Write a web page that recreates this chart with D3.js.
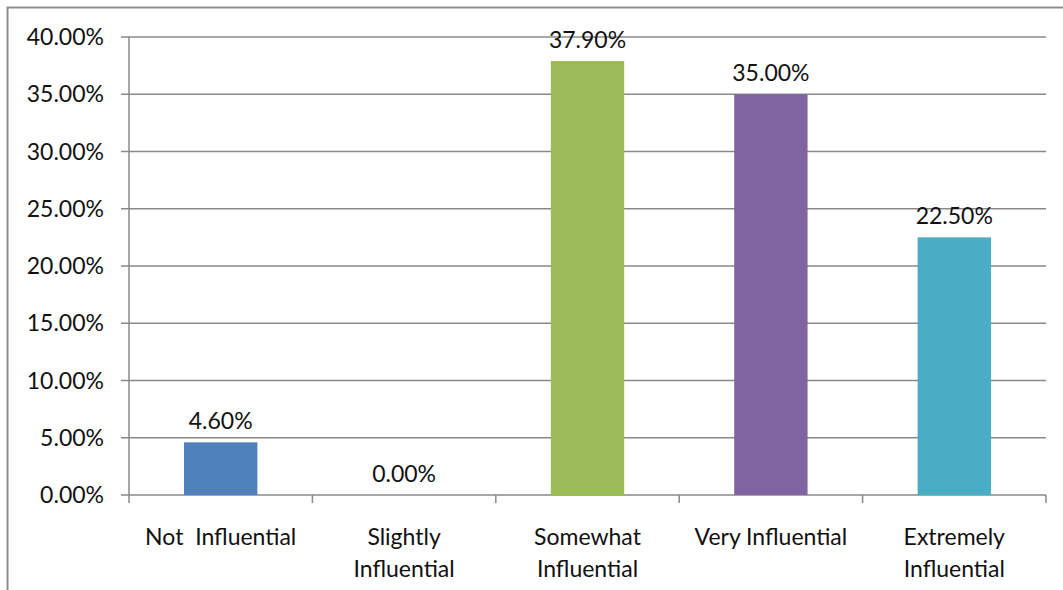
<!DOCTYPE html>
<html>
<head>
<meta charset="utf-8">
<script src="https://cdn.jsdelivr.net/npm/d3@7"></script>
<style>
  body { margin: 0; background: #fff; }
  svg text { font-family: Lato, "Open Sans", sans-serif; fill: #111; }
</style>
</head>
<body>
<svg id="chart" width="1063" height="590"></svg>
<script>
// chart data
var categories = ["Not  Influential", "Slightly Influential", "Somewhat Influential", "Very Influential", "Extremely Influential"];
var labelLines = [["Not  Influential"], ["Slightly", "Influential"], ["Somewhat", "Influential"], ["Very Influential"], ["Extremely", "Influential"]];
var values = [4.6, 0.0, 37.9, 35.0, 22.5];
var barColors = ["#4F81BD", "#C0504D", "#9BBB59", "#8064A2", "#4BACC6"];
var yTicks = [0, 5, 10, 15, 20, 25, 30, 35, 40];

var svg = d3.select("#chart");
var plotLeft = 129, plotRight = 1046, plotTop = 37, plotBottom = 495;
var fs = 23;

// outer frame (runs off the right and bottom edge like the original)
svg.append("rect")
  .attr("x", 7.5).attr("y", 7.5)
  .attr("width", 1070).attr("height", 600)
  .attr("fill", "none")
  .attr("stroke", "#8e8e8e")
  .attr("stroke-width", 2);

var x = d3.scaleBand().domain(categories).range([plotLeft, plotRight]).padding(0);
var y = d3.scaleLinear().domain([0, 40]).range([plotBottom, plotTop]);

// gridlines
svg.append("g")
  .selectAll("line")
  .data(yTicks)
  .enter()
  .append("line")
  .attr("x1", plotLeft - 8)
  .attr("x2", plotRight)
  .attr("y1", d => y(d))
  .attr("y2", d => y(d))
  .attr("stroke", "#8a8a8a")
  .attr("stroke-width", 1.5);

// y axis labels
svg.append("g")
  .selectAll("text")
  .data(yTicks)
  .enter()
  .append("text")
  .attr("x", 104)
  .attr("y", d => y(d))
  .attr("dy", "0.35em")
  .attr("text-anchor", "end")
  .attr("font-size", fs)
  .text(d => d.toFixed(2) + "%");

// y axis line
svg.append("line")
  .attr("x1", plotLeft).attr("x2", plotLeft)
  .attr("y1", plotTop).attr("y2", plotBottom)
  .attr("stroke", "#8a8a8a").attr("stroke-width", 1.5);

// x axis ticks at category boundaries
var bounds = categories.map(c => x(c)).concat([plotRight]);
svg.append("g")
  .selectAll("line")
  .data(bounds)
  .enter()
  .append("line")
  .attr("x1", d => d).attr("x2", d => d)
  .attr("y1", plotBottom).attr("y2", plotBottom + 8)
  .attr("stroke", "#8a8a8a").attr("stroke-width", 1.5);

// bars
var barW = x.bandwidth() * 0.4;
svg.append("g")
  .selectAll("rect")
  .data(values)
  .enter()
  .append("rect")
  .attr("x", (d, i) => x(categories[i]) + (x.bandwidth() - barW) / 2)
  .attr("y", d => y(d))
  .attr("width", barW)
  .attr("height", d => plotBottom - y(d))
  .attr("fill", (d, i) => barColors[i]);

// data labels
svg.append("g")
  .selectAll("text")
  .data(values)
  .enter()
  .append("text")
  .attr("x", (d, i) => x(categories[i]) + x.bandwidth() / 2)
  .attr("y", d => y(d) - 13)
  .attr("text-anchor", "middle")
  .attr("font-size", fs)
  .text(d => d.toFixed(2) + "%");

// category labels
var cat = svg.append("g")
  .selectAll("text")
  .data(labelLines)
  .enter()
  .append("text")
  .attr("x", (d, i) => x(categories[i]) + x.bandwidth() / 2)
  .attr("y", 545)
  .attr("text-anchor", "middle")
  .attr("font-size", fs);
cat.selectAll("tspan")
  .data(d => d)
  .enter()
  .append("tspan")
  .attr("x", function () { return d3.select(this.parentNode).attr("x"); })
  .attr("dy", (d, i) => i == 0 ? 0 : 32)
  .style("white-space", "pre")
  .text(d => d);
</script>
</body>
</html>
